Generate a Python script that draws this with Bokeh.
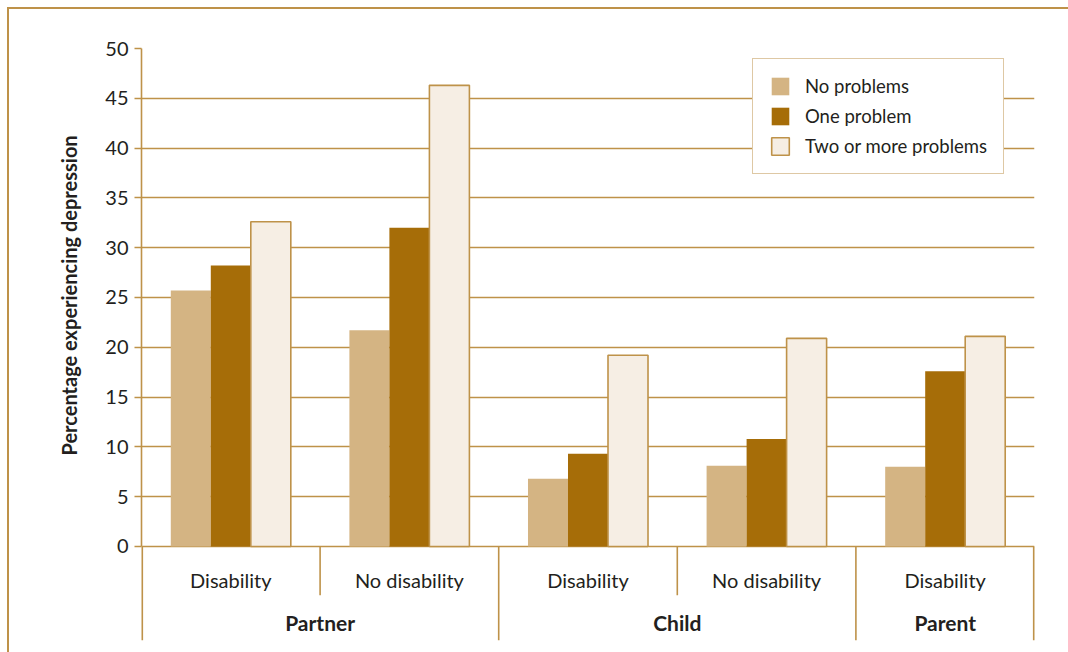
from bokeh.plotting import figure
from bokeh.models import (FactorRange, Range1d, FixedTicker, ColumnDataSource, Title,
                          InlineStyleSheet)
from bokeh.transform import dodge
from bokeh.core.properties import value
from bokeh.embed import file_html
from bokeh.resources import INLINE

# ---- data -------------------------------------------------------------
groups = ["Partner", "Partner", "Child", "Child", "Parent"]
subgroups = ["Disability", "No disability", "Disability", "No disability", "Disability"]
group_names = ["Partner", "Child", "Parent"]

no_problems = [25.7, 21.7, 6.8, 8.1, 8.0]
one_problem = [28.2, 32.0, 9.3, 10.8, 17.6]
two_or_more = [32.6, 46.3, 19.2, 20.9, 21.1]

series_names = ["No problems", "One problem", "Two or more problems"]
y_ticks = [0, 5, 10, 15, 20, 25, 30, 35, 40, 45, 50]
y_title = "Percentage experiencing depression"

# ---- style ------------------------------------------------------------
FONT = "Lato"
GOLD = "#BE9249"
INK = "#231F20"
C_NONE = "#D4B483"
C_ONE = "#A66D08"
C_TWO = "#F6EEE4"

Y_MIN = -9.44  # room under the baseline for the category labels
BAR_W = 0.224

factors = list(zip(groups, subgroups))

p = figure(
    width=1068, height=652,
    x_range=FactorRange(*factors, factor_padding=0, group_padding=0, range_padding=0),
    y_range=Range1d(Y_MIN, 50),
    output_backend="svg", toolbar_location=None, x_axis_location=None,
    min_border_left=141, min_border_right=34, min_border_top=48, min_border_bottom=12,
    outline_line_color=None, background_fill_color="white", border_fill_color=None,
)
# page frame: top and left rules painted behind the transparent border area
p.stylesheets = [InlineStyleSheet(css=f"""
:host {{
  background-color: white;
  background-image: linear-gradient({GOLD}, {GOLD}), linear-gradient({GOLD}, {GOLD});
  background-position: 7px 7px, 7px 7px;
  background-size: 100% 2px, 2px 100%;
  background-repeat: no-repeat;
}}
""")]

src = ColumnDataSource(dict(x=factors, sub=subgroups, none=no_problems,
                            one=one_problem, two=two_or_more))

# ---- axes & grid ------------------------------------------------------
yax = p.yaxis[0]
yax.ticker = FixedTicker(ticks=y_ticks)
yax.bounds = (0, 50)
yax.axis_line_color = GOLD
yax.axis_line_width = 1.6
yax.major_tick_line_color = GOLD
yax.major_tick_line_width = 1.6
yax.major_tick_in = 0
yax.major_tick_out = 7
yax.minor_tick_line_color = None
yax.major_label_standoff = 6
yax.major_label_text_font = FONT
yax.major_label_text_font_size = "20px"
yax.major_label_text_color = INK

# value-axis title, anchored at its lower end so it sits beside the 0-50 scale
p.add_layout(Title(text=y_title, align="left", offset=185, standoff=44,
                   vertical_align="bottom", text_font=FONT, text_font_size="20px",
                   text_font_style="bold", text_color=INK), "left")

p.ygrid.grid_line_color = GOLD
p.ygrid.grid_line_width = 1.6
p.xgrid.visible = False

# ---- bars -------------------------------------------------------------
p.vbar(x=dodge("x", -BAR_W, range=p.x_range), top="none", width=BAR_W, source=src,
       fill_color=C_NONE, line_color=None, legend_label=series_names[0])
p.vbar(x=dodge("x", 0, range=p.x_range), top="one", width=BAR_W, source=src,
       fill_color=C_ONE, line_color=None, legend_label=series_names[1])
p.vbar(x=dodge("x", BAR_W, range=p.x_range), top="two", width=BAR_W, source=src,
       fill_color=C_TWO, line_color=GOLD, line_width=1.6, legend_label=series_names[2])

# ---- category labels and separators below the baseline ------------------
p.text(x="x", y=-3.41, text="sub", source=src, text_font=value(FONT),
       text_font_size="20px", text_align="center", text_baseline="middle",
       text_color=INK)
gsrc = ColumnDataSource(dict(x=group_names))
p.text(x="x", y=-7.63, text="x", source=gsrc, text_font=value(FONT),
       text_font_size="21px", text_font_style="bold", text_align="center",
       text_baseline="middle", text_color=INK)

sub_sep = ColumnDataSource(dict(x=[("Partner", "No disability"), ("Child", "No disability")]))
p.segment(x0=dodge("x", -0.5, range=p.x_range), y0=0,
          x1=dodge("x", -0.5, range=p.x_range), y1=-4.9,
          source=sub_sep, line_color=GOLD, line_width=1.6)
grp_sep = ColumnDataSource(dict(x=[("Child", "Disability"), ("Parent", "Disability")]))
p.segment(x0=dodge("x", -0.5, range=p.x_range), y0=0,
          x1=dodge("x", -0.5, range=p.x_range), y1=Y_MIN,
          source=grp_sep, line_color=GOLD, line_width=1.6)
# outer edges sit on the frame boundary, so half the stroke is visible
p.segment(x0=dodge("x", -0.5, range=p.x_range), y0=0,
          x1=dodge("x", -0.5, range=p.x_range), y1=Y_MIN,
          source=ColumnDataSource(dict(x=[("Partner", "Disability")])),
          line_color=GOLD, line_width=3.2)
p.segment(x0=dodge("x", 0.5, range=p.x_range), y0=0,
          x1=dodge("x", 0.5, range=p.x_range), y1=Y_MIN,
          source=ColumnDataSource(dict(x=[("Parent", "Disability")])),
          line_color=GOLD, line_width=3.2)

# ---- legend -----------------------------------------------------------
leg = p.legend[0]
leg.location = (611, 466)
leg.margin = 0
leg.padding = 16
leg.spacing = 8
leg.glyph_width = 22
leg.glyph_height = 22
leg.label_height = 22
leg.label_standoff = 14
leg.label_text_font = FONT
leg.label_text_font_size = "18.5px"
leg.label_text_color = INK
leg.border_line_color = GOLD
leg.border_line_width = 1.6
leg.background_fill_color = "white"
leg.background_fill_alpha = 1.0

open("out.html", "w").write(file_html(p, INLINE))
